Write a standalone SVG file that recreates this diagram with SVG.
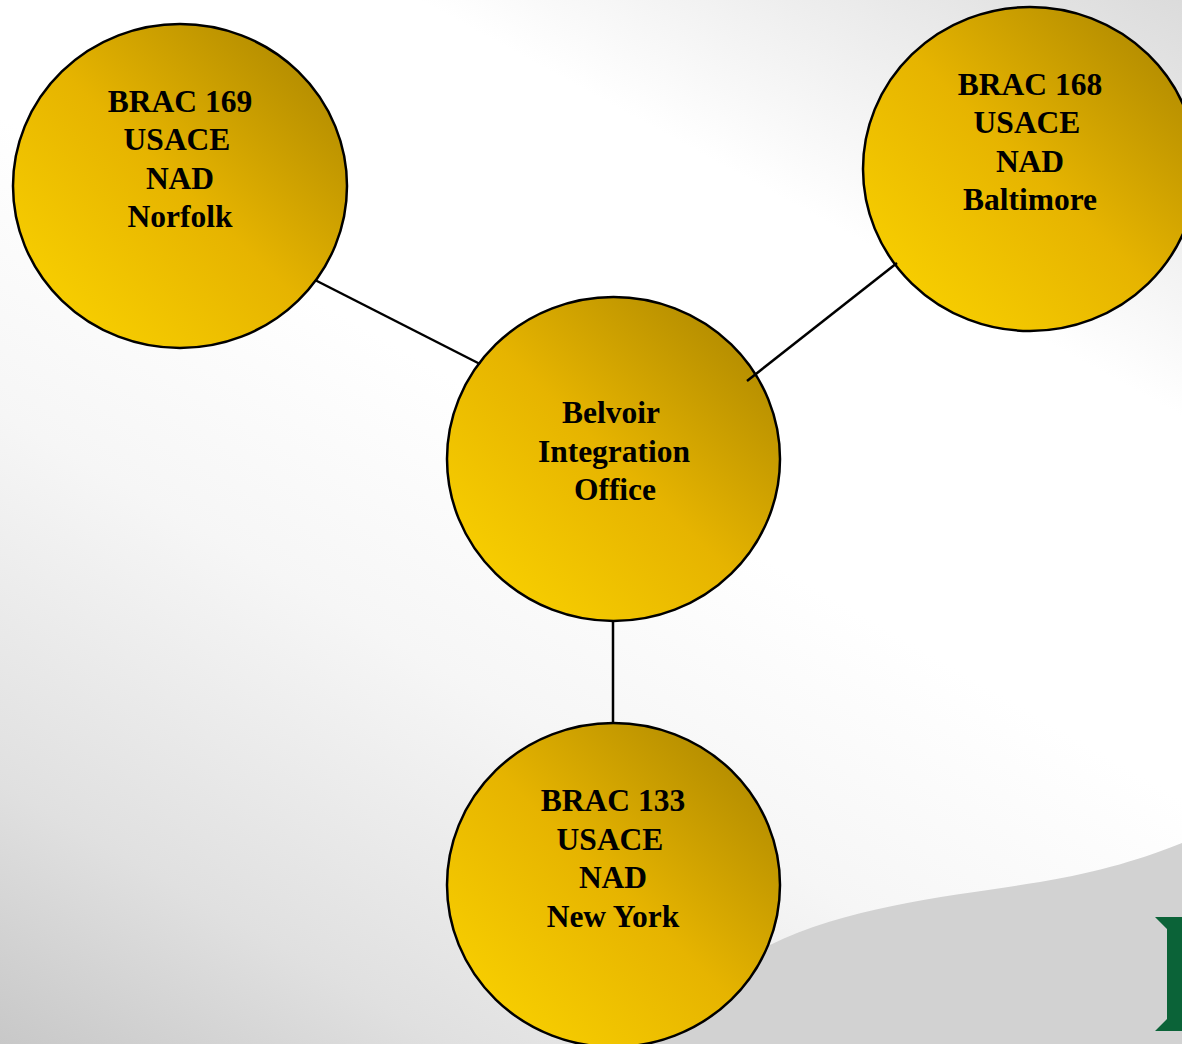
<svg xmlns="http://www.w3.org/2000/svg" width="1182" height="1044" viewBox="0 0 1182 1044">
<defs>
<linearGradient id="bg" gradientUnits="userSpaceOnUse" x1="-50" y1="87" x2="-452" y2="783"><stop offset="0" stop-color="#ffffff"/><stop offset="0.32" stop-color="#f6f6f6"/><stop offset="0.72" stop-color="#e0e0e0"/><stop offset="1" stop-color="#c8c8c8"/></linearGradient>
<linearGradient id="gold" x1="0.15" y1="0.85" x2="0.85" y2="0.15"><stop offset="0" stop-color="#f6cc00"/><stop offset="0.5" stop-color="#e6b400"/><stop offset="1" stop-color="#b89000"/></linearGradient>
<linearGradient id="corner" gradientUnits="userSpaceOnUse" x1="96" y1="-176" x2="288" y2="-528"><stop offset="0" stop-color="#d8d8d8" stop-opacity="0"/><stop offset="1" stop-color="#d8d8d8" stop-opacity="1"/></linearGradient>
</defs>
<style>
.n{fill:url(#gold);stroke:#000;stroke-width:2.5}
.t{font-family:"Liberation Serif","Times New Roman",serif;font-weight:bold;font-size:31.5px;fill:#000;text-anchor:middle}
.c{stroke:#000;stroke-width:2.5;fill:none}
</style>
<rect width="1182" height="1044" fill="url(#bg)"/>
<rect width="1182" height="1044" fill="url(#corner)"/>
<path d="M770 945C850 905 960 895 1040 882C1100 872 1145 858 1182 843V1044H613V945Z" fill="#d2d2d2"/>
<path d="M1155 917H1182V1031H1155L1167 1019V929Z" fill="#0b6338"/>
<g id="node-169"><ellipse class="n" cx="180" cy="186" rx="167" ry="162"/>
<text class="t" x="180" y="112">BRAC 169</text><text class="t" x="177" y="150">USACE</text><text class="t" x="180" y="189">NAD</text><text class="t" x="180" y="227">Norfolk</text></g>
<g id="node-168"><ellipse class="n" cx="1030" cy="169" rx="167" ry="162"/>
<text class="t" x="1030" y="95">BRAC 168</text><text class="t" x="1027" y="133">USACE</text><text class="t" x="1030" y="172">NAD</text><text class="t" x="1030" y="210">Baltimore</text></g>
<g id="node-belvoir"><ellipse class="n" cx="613.5" cy="459" rx="166.5" ry="162"/>
<text class="t" x="611" y="423">Belvoir</text><text class="t" x="614" y="462">Integration</text><text class="t" x="615" y="500">Office</text></g>
<g id="node-133"><ellipse class="n" cx="613.5" cy="885" rx="166.5" ry="162"/>
<text class="t" x="613" y="811">BRAC 133</text><text class="t" x="610" y="850">USACE</text><text class="t" x="613" y="888">NAD</text><text class="t" x="613" y="927">New York</text></g>
<g id="connectors">
<line class="c" x1="315" y1="280" x2="480" y2="364"/>
<line class="c" x1="897" y1="263" x2="747" y2="381"/>
<line class="c" x1="613" y1="620" x2="613" y2="723"/>
</g>
</svg>
